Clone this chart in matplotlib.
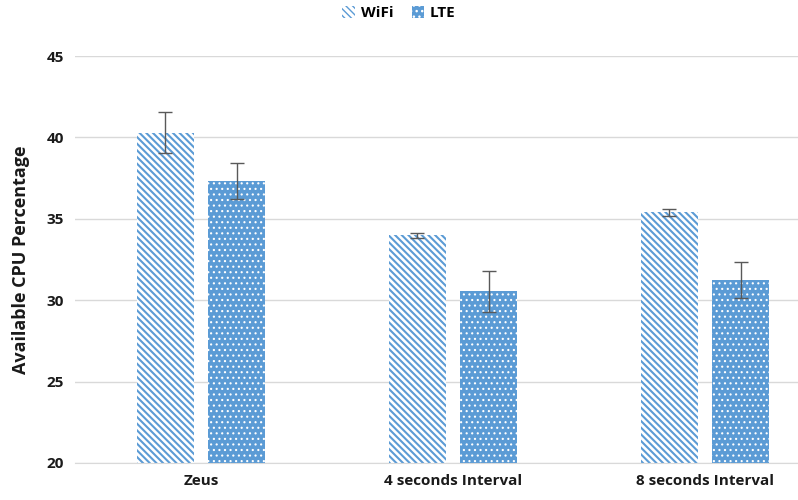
import matplotlib
matplotlib.use("Agg")
import matplotlib.pyplot as plt
import numpy as np

categories = ["Zeus", "4 seconds Interval", "8 seconds Interval"]
wifi = [40.3, 34.0, 35.4]
wifi_err = [1.27, 0.15, 0.2]
lte = [37.3, 30.55, 31.25]
lte_err = [1.1, 1.25, 1.1]
yticks = [20, 25, 30, 35, 40, 45]

plt.rcParams['font.family'] = ['Open Sans', 'DejaVu Sans']

fig = plt.figure(figsize=(7.98, 5.0), dpi=100)
ax = fig.add_axes([75/798, 1-463/500, 756/798, (463-56)/500])

x = np.arange(len(categories))
w = 0.226
off = 0.141
blue = '#5B9BD5'

b1 = ax.bar(x - off, wifi, w, color='white', edgecolor=blue, hatch='\\' * 5, linewidth=0, label='WiFi', zorder=2)
b2 = ax.bar(x + off, lte, w, color=blue, edgecolor='white', hatch='...', linewidth=0, label='LTE', zorder=2)
for p in b1:
    p.set_hatch_linewidth(1.5)
for p in b2:
    p.set_hatch_linewidth(0.8)
ax.errorbar(x - off, wifi, yerr=wifi_err, fmt='none', ecolor='#595959', elinewidth=1, capsize=5, capthick=1, zorder=3)
ax.errorbar(x + off, lte, yerr=lte_err, fmt='none', ecolor='#595959', elinewidth=1, capsize=5, capthick=1, zorder=3)

ax.set_ylim(20, 45)
ax.set_xlim(-0.5, 2.5)
ax.set_yticks(yticks)
ax.set_xticks(x)
ax.set_xticklabels(categories, fontsize=11, fontweight='bold', color='#1a1a1a')
for t in ax.get_yticklabels():
    t.set_fontsize(11)
    t.set_fontweight('bold')
    t.set_color('#1a1a1a')
ax.yaxis.grid(True, color='#D9D9D9', linewidth=1, zorder=0)
ax.set_axisbelow(True)
for s in ['top', 'right', 'left']:
    ax.spines[s].set_visible(False)
ax.spines['bottom'].set_color('#D9D9D9')
ax.tick_params(axis='both', length=0, pad=8)
ax.set_ylabel('Available CPU Percentage', fontsize=13, fontweight='bold', color='#1a1a1a', labelpad=12)

leg = fig.legend(handles=[b1, b2], labels=['WiFi', 'LTE'], loc='upper center', bbox_to_anchor=(0.5, 1.015),
           ncol=2, frameon=False, prop={'weight': 'bold', 'size': 11}, handlelength=0.8, handleheight=0.8,
           columnspacing=1.2, handletextpad=0.4)

fig.savefig('out.png', dpi=100)
